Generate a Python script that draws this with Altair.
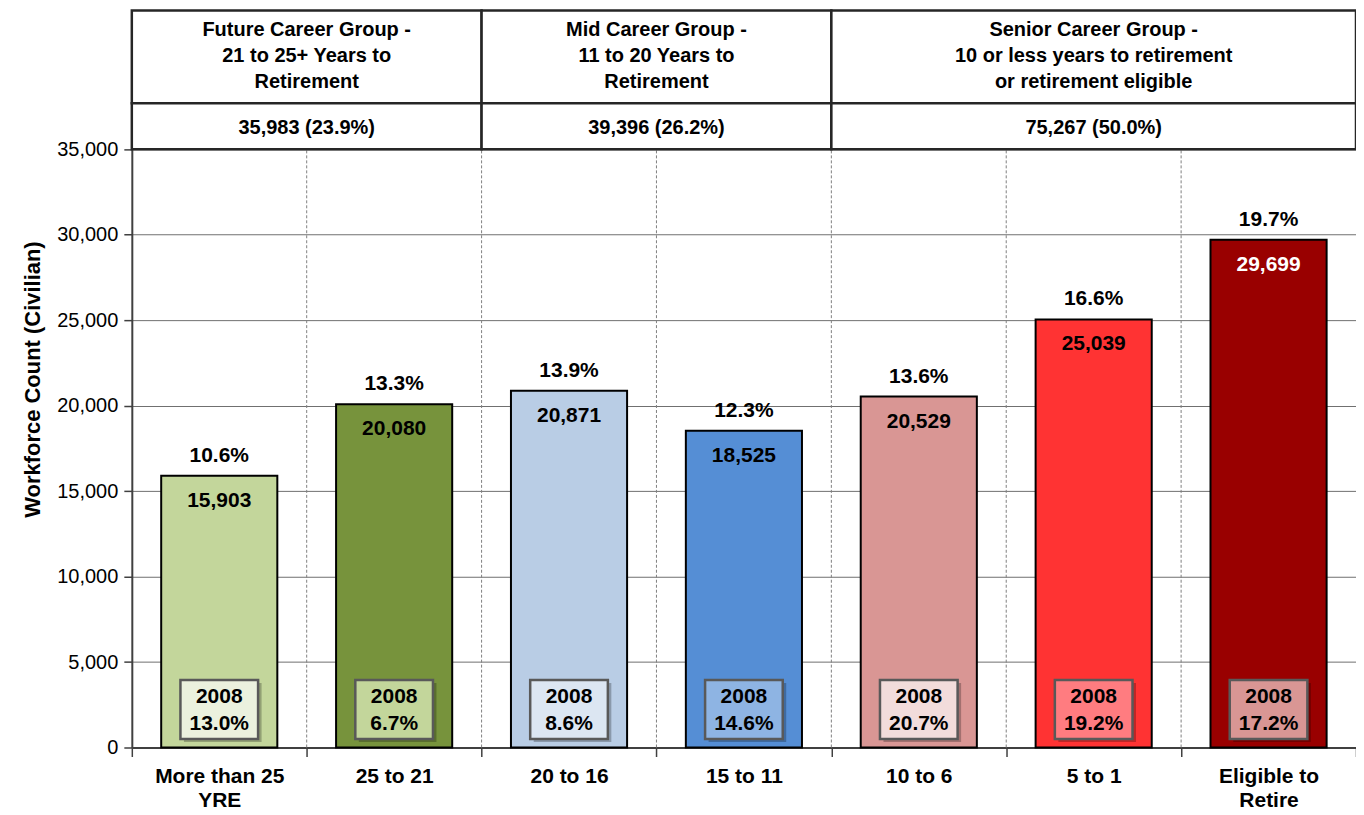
import json
import altair as alt
import pandas as pd

# ---------------- data ----------------
categories = ["More than 25\nYRE", "25 to 21", "20 to 16", "15 to 11",
              "10 to 6", "5 to 1", "Eligible to\nRetire"]
counts = [15903, 20080, 20871, 18525, 20529, 25039, 29699]
share_pct = [10.6, 13.3, 13.9, 12.3, 13.6, 16.6, 19.7]
share_2008 = [13.0, 6.7, 8.6, 14.6, 20.7, 19.2, 17.2]
bar_colors = ["#C3D69B", "#77933C", "#B9CDE5", "#558ED5", "#D99694", "#FF3333", "#990000"]
box_colors = ["#EBF1DE", "#C3D69B", "#DCE6F2", "#8EB4E3", "#F2DCDB", "#FF7C80", "#D99694"]
value_label_colors = ["#000000"] * 6 + ["#FFFFFF"]

group_names = ["Future Career Group -\n21 to 25+ Years to\nRetirement",
               "Mid Career Group -\n11 to 20 Years to\nRetirement",
               "Senior Career Group -\n10 or less years to retirement\nor retirement eligible"]
group_totals = [35983, 39396, 75267]
group_pct = [23.9, 26.2, 50.0]
group_first = [0, 2, 4]
group_size = [2, 2, 3]

# ---------------- layout constants ----------------
W, H = 1226, 738
AXIS_MAX = 35000
Y_TOP = 43107
HEADER_SPLIT = 37687
FONT = "Liberation Sans"

bars = pd.DataFrame({
    "idx": list(range(len(categories))),
    "category": categories,
    "count": counts,
    "pct_label": [f"{p:.1f}%" for p in share_pct],
    "box_label": [f"2008\n{p:.1f}%" for p in share_2008],
    "bar_color": bar_colors,
    "box_color": box_colors,
    "label_color": value_label_colors,
})
groups = pd.DataFrame({
    "name": group_names,
    "total_label": [f"{t:,} ({p:.1f}%)" for t, p in zip(group_totals, group_pct)],
    "first": group_first,
    "size": group_size,
})
bounds = pd.DataFrame({"b": list(range(1, len(categories)))})

xs = alt.Scale(domain=[0, len(categories)], nice=False, zero=False)
ys = alt.Scale(domain=[0, Y_TOP], nice=False, zero=True)

label_lines = [c.split("\n") for c in categories]
x_values = [i / 2 for i in range(0, 2 * len(categories) + 1)]
x_axis = alt.Axis(
    values=x_values,
    labelExpr=f"datum.value % 1 == 0 ? '' : {json.dumps(label_lines)}[floor(datum.value)]",
    tickOpacity={"condition": {"test": "datum.value % 1 == 0", "value": 1}, "value": 0},
    tickSize=9, tickColor="#404040", tickWidth=1.5,
    labelFont=FONT, labelFontSize=21, labelFontWeight="bold", labelColor="#000000",
    labelLineHeight=24, labelPadding=9, labelOverlap=False, labelFlush=False, labelBound=False,
    domainColor="#404040", domainWidth=2, grid=False, title=None,
)
y_axis = alt.Axis(
    values=list(range(0, AXIS_MAX + 1, 5000)),
    labelExpr="format(datum.value, ',')",
    title="Workforce Count (Civilian)", titleFont=FONT, titleFontSize=22,
    titleFontWeight="bold", titleColor="#000000", titlePadding=12,
    labelFont=FONT, labelFontSize=20, labelColor="#000000", labelPadding=6,
    tickSize=8, tickColor="#404040", tickWidth=1.5,
    domainColor="#404040", domainWidth=2,
    grid=True, gridColor="#6f6f6f", gridWidth=1,
)


def X(field):
    return alt.X(field, scale=xs, axis=x_axis)


def Yf(field):
    return alt.Y(field, scale=ys, axis=y_axis)


def Yd(value):
    return alt.Y(datum=value, scale=ys, axis=y_axis)


base = alt.Chart(bars).transform_calculate(
    center="datum.idx + 0.5",
    x0="datum.idx + 0.5 - 0.332",
    x1="datum.idx + 0.5 + 0.332",
    bx0="datum.idx + 0.5 - 0.222",
    bx1="datum.idx + 0.5 + 0.222",
    sx0="datum.idx + 0.5 - 0.222 + 0.02",
    sx1="datum.idx + 0.5 + 0.222 + 0.02",
)

bar_layer = base.mark_rect(stroke="#000000", strokeWidth=2).encode(
    x=X("x0:Q"), x2="x1:Q",
    y=Yf("count:Q"), y2=alt.datum(0),
    fill=alt.Fill("bar_color:N", scale=None),
)

dashed = alt.Chart(bounds).mark_rule(color="#7f7f7f", strokeDash=[3, 2], strokeWidth=1).encode(
    x=X("b:Q"), y=Yd(0), y2=alt.datum(AXIS_MAX),
)

value_text = base.mark_text(font=FONT, fontSize=21, fontWeight="bold", baseline="middle", dy=25).encode(
    x=X("center:Q"), y=Yf("count:Q"),
    text=alt.Text("count:Q", format=","),
    color=alt.Color("label_color:N", scale=None),
)

pct_text = base.mark_text(font=FONT, fontSize=21, fontWeight="bold", baseline="middle", dy=-20,
                          color="#000000").encode(
    x=X("center:Q"), y=Yf("count:Q"), text="pct_label:N",
)

box_shadow = base.mark_rect(fill="#000000", opacity=0.25).encode(
    x=X("sx0:Q"), x2="sx1:Q", y=Yd(320), y2=alt.datum(3770),
)
box = base.mark_rect(stroke="#595959", strokeWidth=2.5).encode(
    x=X("bx0:Q"), x2="bx1:Q", y=Yd(497), y2=alt.datum(3943),
    fill=alt.Fill("box_color:N", scale=None),
)
box_text = base.mark_text(font=FONT, fontSize=21, fontWeight="bold", baseline="middle",
                          lineBreak="\n", lineHeight=27, color="#000000").encode(
    x=X("center:Q"), y=Yd(2950), text="box_label:N",
)

hbase = alt.Chart(groups).transform_calculate(
    g0="datum.first", g1="datum.first + datum.size", gmid="datum.first + datum.size / 2"
)
header_top = hbase.mark_rect(fill="white", stroke="#262626", strokeWidth=2.5).encode(
    x=X("g0:Q"), x2="g1:Q", y=Yd(HEADER_SPLIT), y2=alt.datum(Y_TOP),
)
header_bottom = hbase.mark_rect(fill="white", stroke="#262626", strokeWidth=2.5).encode(
    x=X("g0:Q"), x2="g1:Q", y=Yd(AXIS_MAX), y2=alt.datum(HEADER_SPLIT),
)
header_name = hbase.mark_text(font=FONT, fontSize=20, fontWeight="bold", baseline="middle",
                              lineBreak="\n", lineHeight=26, color="#000000").encode(
    x=X("gmid:Q"), y=Yd(41968), text="name:N",
)
header_total = hbase.mark_text(font=FONT, fontSize=20, fontWeight="bold", baseline="middle",
                               color="#000000").encode(
    x=X("gmid:Q"), y=Yd(36245), text="total_label:N",
)

chart = alt.layer(
    bar_layer, dashed, value_text, pct_text, box_shadow, box, box_text,
    header_top, header_bottom, header_name, header_total,
).properties(
    width=W, height=H,
    autosize=alt.AutoSizeParams(type="none"),
    padding={"left": 124, "top": 2, "right": 0, "bottom": 66},
    background="white",
).configure_view(stroke=None)

chart.save("out.html", embed_options={"renderer": "svg", "actions": False})
